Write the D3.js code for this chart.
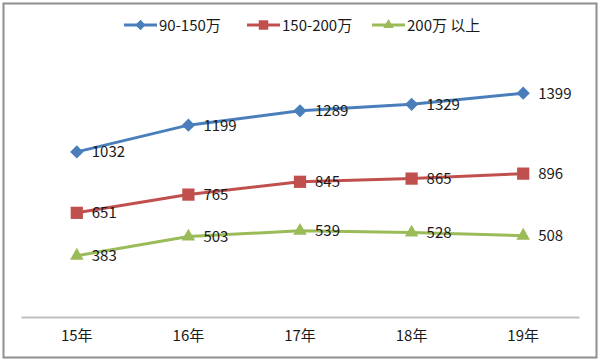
<!DOCTYPE html>
<html>
<head>
<meta charset="utf-8">
<script src="https://cdn.jsdelivr.net/npm/d3@7"></script>
<style>
  body { margin: 0; background: #fff; }
  svg { display: block; }
  text { font-family: "Noto Sans CJK SC", "Liberation Sans", sans-serif; fill: #1a1a1a; }
</style>
</head>
<body>
<svg width="600" height="362"></svg>
<script>
// data
var years = ["15年", "16年", "17年", "18年", "19年"];
var seriesNames = ["90-150万", "150-200万", "200万 以上"];
var midRange = [1032, 1199, 1289, 1329, 1399];
var upperRange = [651, 765, 845, 865, 896];
var topRange = [383, 503, 539, 528, 508];

var colors = ["#4a7ebb", "#c0504d", "#9bbb59"];
var shapes = [d3.symbolSquare, d3.symbolSquare, d3.symbolTriangle];
var rotate = [45, 0, 0];
var symSizes = [88, 150, 80];

var svg = d3.select("svg");
var width = +svg.attr("width");
var height = +svg.attr("height");

// outer frame
svg.append("rect")
  .attr("x", 3.5).attr("y", 3.5)
  .attr("width", 593).attr("height", 354)
  .attr("fill", "none")
  .attr("stroke", "#8f8f8f")
  .attr("stroke-width", 2);

var x = d3.scaleBand().domain(years).range([21, 579]);
var y = d3.scaleLinear().domain([0, 1600]).range([317, 61]);

var series = [midRange, upperRange, topRange].map(function(vals, i) {
  return {
    name: seriesNames[i],
    color: colors[i],
    shape: shapes[i],
    rot: rotate[i],
    size: symSizes[i],
    values: vals.map(function(v, j) { return { year: years[j], value: v }; })
  };
});

// x axis
var xAxis = svg.append("g")
  .attr("transform", "translate(0," + y(0) + ")")
  .call(d3.axisBottom(x).tickSize(0).tickPadding(13));
xAxis.select(".domain").attr("stroke", "#c0c0c0").attr("stroke-width", 1.8);
xAxis.selectAll("text")
  .attr("font-size", 15)
  .attr("font-family", "Noto Sans CJK SC, sans-serif")
  .attr("fill", "#1a1a1a");

var line = d3.line()
  .x(function(d) { return x(d.year) + x.bandwidth() / 2; })
  .y(function(d) { return y(d.value); });

var groups = svg.selectAll("g.series")
  .data(series)
  .enter()
  .append("g")
  .attr("class", "series");

groups.append("path")
  .attr("d", function(d) { return line(d.values); })
  .attr("fill", "none")
  .attr("stroke", function(d) { return d.color; })
  .attr("stroke-width", 3);

groups.each(function(s) {
  var g = d3.select(this);
  g.selectAll("path.mark")
    .data(s.values)
    .enter()
    .append("path")
    .attr("class", "mark")
    .attr("transform", function(d) {
      return "translate(" + (x(d.year) + x.bandwidth() / 2) + "," + y(d.value) + ") rotate(" + s.rot + ")";
    })
    .attr("d", d3.symbol().type(s.shape).size(s.size))
    .attr("fill", s.color);

  g.selectAll("text.lbl")
    .data(s.values)
    .enter()
    .append("text")
    .attr("class", "lbl")
    .attr("x", function(d) { return x(d.year) + x.bandwidth() / 2 + 15; })
    .attr("y", function(d) { return y(d.value) + 5.5; })
    .attr("font-size", 15)
    .text(function(d) { return d.value; });
});

// legend
var legendX = [124, 247, 372];
var legend = svg.selectAll("g.legend")
  .data(series)
  .enter()
  .append("g")
  .attr("class", "legend")
  .attr("transform", function(d, i) { return "translate(" + legendX[i] + ",25)"; });

legend.append("line")
  .attr("x1", 0).attr("x2", 33)
  .attr("stroke", function(d) { return d.color; })
  .attr("stroke-width", 3);

legend.append("path")
  .attr("transform", function(d) { return "translate(16.5,0) rotate(" + d.rot + ")"; })
  .attr("d", function(d) { return d3.symbol().type(d.shape).size(d.size * 0.6)(); })
  .attr("fill", function(d) { return d.color; });

legend.append("text")
  .attr("x", 35)
  .attr("y", 5.5)
  .attr("font-size", 15)
  .text(function(d) { return d.name; });
</script>
</body>
</html>
